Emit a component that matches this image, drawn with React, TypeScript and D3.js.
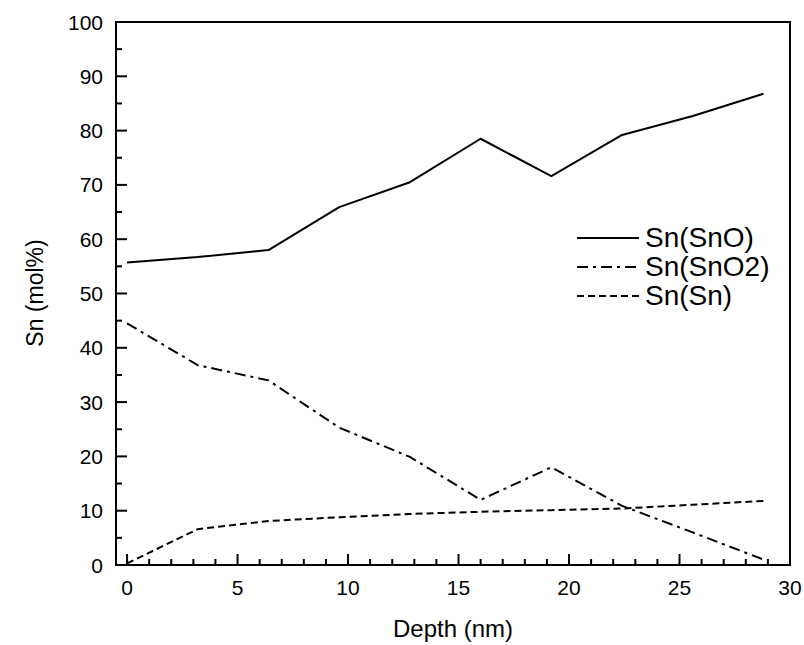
import React, { useEffect, useRef } from "react";
import * as d3 from "d3";

const depth = [0, 3.2, 6.4, 9.6, 12.8, 16, 19.2, 22.4, 25.6, 28.8];
const snO = [55.7, 56.7, 58.0, 65.9, 70.5, 78.5, 71.6, 79.2, 82.7, 86.8];
const snO2 = [44.5, 36.8, 34.0, 25.3, 19.9, 12.0, 18.0, 10.9, 6.0, 1.0];
const snSn = [0.3, 6.6, 8.1, 8.8, 9.4, 9.8, 10.1, 10.4, 11.1, 11.8];
const seriesNames = ["Sn(SnO)", "Sn(SnO2)", "Sn(Sn)"];
const xTicks = [0, 5, 10, 15, 20, 25, 30];
const yTicks = [0, 10, 20, 30, 40, 50, 60, 70, 80, 90, 100];

const W = 804, H = 645;
const FONT = "'Liberation Sans', Arial, sans-serif";

export default function App() {
  const ref = useRef<SVGSVGElement>(null);
  useEffect(() => {
    const svg = d3.select(ref.current);
    svg.selectAll("*").remove();
    const x = d3.scaleLinear().domain([-0.5, 30]).range([116, 790]);
    const y = d3.scaleLinear().domain([0, 100]).range([565, 22]);
    const g = svg.append("g");

    // x ticks
    const xMinor = d3.range(0, 31, 1);
    g.selectAll(".xt").data(xMinor).enter().append("line")
      .attr("x1", d => x(d)).attr("x2", d => x(d))
      .attr("y1", y(0)).attr("y2", d => y(0) - (d % 5 === 0 ? 11 : 6))
      .attr("stroke", "#000").attr("stroke-width", 2);
    g.selectAll(".xl").data(xTicks).enter().append("text")
      .attr("x", d => x(d)).attr("y", 595)
      .attr("text-anchor", "middle").attr("font-family", FONT).attr("font-size", 21)
      .text(d => String(d));

    // y ticks
    const yMinor = d3.range(0, 101, 5);
    g.selectAll(".yt").data(yMinor).enter().append("line")
      .attr("x1", x(-0.5)).attr("x2", d => x(-0.5) + (d % 10 === 0 ? 11 : 6))
      .attr("y1", d => y(d)).attr("y2", d => y(d))
      .attr("stroke", "#000").attr("stroke-width", 2);
    g.selectAll(".yl").data(yTicks).enter().append("text")
      .attr("x", 103).attr("y", d => y(d) + 7.5)
      .attr("text-anchor", "end").attr("font-family", FONT).attr("font-size", 21)
      .text(d => String(d));

    // frame
    g.append("rect").attr("x", x(-0.5)).attr("y", y(100))
      .attr("width", x(30) - x(-0.5)).attr("height", y(0) - y(100))
      .attr("fill", "none").attr("stroke", "#000").attr("stroke-width", 2);

    const line = d3.line<number>().x((_, i) => x(depth[i])).y(d => y(d));
    const dashes = [null, "11,5,3,5", "7,4"];
    [snO, snO2, snSn].forEach((s, k) => {
      const p = g.append("path").datum(s).attr("d", line)
        .attr("fill", "none").attr("stroke", "#000").attr("stroke-width", 2)
        .attr("stroke-linejoin", "round");
      if (dashes[k]) p.attr("stroke-dasharray", dashes[k] as string);
    });

    // legend
    const ly = [238, 267, 296];
    seriesNames.forEach((name, k) => {
      const l = g.append("line").attr("x1", 577).attr("x2", 639)
        .attr("y1", ly[k]).attr("y2", ly[k])
        .attr("stroke", "#000").attr("stroke-width", 2);
      if (dashes[k]) l.attr("stroke-dasharray", dashes[k] as string);
      g.append("text").attr("x", 645).attr("y", ly[k] + 9)
        .attr("font-family", FONT).attr("font-size", 28).text(name);
    });

    // axis titles
    g.append("text").attr("x", 453).attr("y", 637).attr("text-anchor", "middle")
      .attr("font-family", FONT).attr("font-size", 24).text("Depth (nm)");
    g.append("text").attr("transform", `translate(43,293) rotate(-90)`)
      .attr("text-anchor", "middle")
      .attr("font-family", FONT).attr("font-size", 23).text("Sn (mol%)");
  }, []);
  return (
    <svg ref={ref} width={W} height={H}
      style={{ position: "absolute", left: 0, top: 0, background: "#fff" }} />
  );
}
